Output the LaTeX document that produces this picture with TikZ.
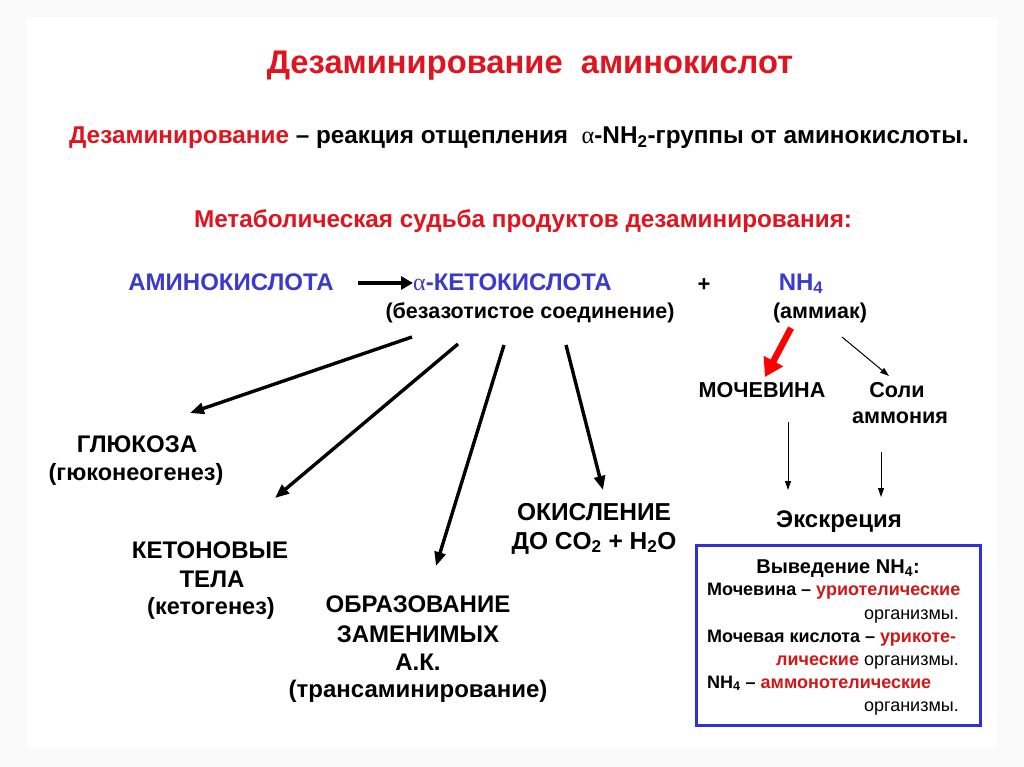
\documentclass[tikz,border=0pt]{standalone}
\usepackage{fontspec}
\setmainfont{Liberation Sans}
\newfontfamily\greekf{Liberation Serif}
\usetikzlibrary{arrows.meta}
\definecolor{tred}{HTML}{E0141E}
\definecolor{tblue}{HTML}{3A3ACC}
\definecolor{bblue}{HTML}{3030D8}
\definecolor{dred}{HTML}{D01818}
\newcommand{\fs}[1]{\fontsize{#1}{#1}\selectfont\bfseries}
\newcommand{\alf}{{\greekf\mdseries α}}
\tikzset{
  txt/.style={inner sep=0pt, anchor=base, text=black},
  bigarrow/.style={line width=3.4pt, -{Triangle[length=14pt,width=11pt]}},
  thinarrow/.style={line width=1pt, -{Triangle[length=9pt,width=6pt]}},
  redarrow/.style={draw=red, line width=6.5pt, -{Triangle[length=18pt,width=21pt]}},
  hbox/.style={draw=bblue, line width=3pt, fill=white}
}
\begin{document}
\begin{tikzpicture}[x=1pt,y=-1pt]
\fill[black!2] (0,0) rectangle (1024,767);
\fill[white] (27,17) rectangle (997,747);
\useasboundingbox (0,0) rectangle (1024,767);

% headings
\node[txt, text=tred] (title) at (530,74) {\fs{32.7}Дезаминирование\ \ аминокислот};
\node[txt] (def) at (519,144) {\fs{24.3}\textcolor{tred}{Дезаминирование} – реакция отщепления\ \ \alf-NH\textsubscript{2}-группы от аминокислоты.};
\node[txt, text=tred] (meta) at (523,228) {\fs{24.3}Метаболическая судьба продуктов дезаминирования:};

% main equation
\node[txt, text=tblue] (amino) at (231,290) {\fs{24}АМИНОКИСЛОТА};
\node[txt, text=tblue, anchor=base west] (keto) at (413,290) {\fs{24}\alf-КЕТОКИСЛОТА};
\node[txt] (bez) at (530,318) {\fs{21.5}(безазотистое соединение)};
\node[txt] (plus) at (704,291) {\fs{22}+};
\node[txt, text=tblue] (nh) at (801,290) {\fs{24}NH\textsubscript{4}};
\node[txt] (amm) at (820,318) {\fs{21.5}(аммиак)};
\coordinate (a0) at (358,283);
\draw[line width=4pt, -{Triangle[length=12pt,width=13pt]}] (a0) -- (keto.west |- a0);

% products of keto acid
\node[txt] (gluc) at (137,452) {\fs{24}ГЛЮКОЗА};
\node[txt] (gluc2) at (136,480) {\fs{23.5}(гюконеогенез)};
\node[txt] (ket1) at (210,558) {\fs{24}КЕТОНОВЫЕ};
\node[txt] (ket2) at (212,587) {\fs{24}ТЕЛА};
\node[txt] (ket3) at (211,614) {\fs{23.5}(кетогенез)};
\node[txt] (obr1) at (418,612) {\fs{24}ОБРАЗОВАНИЕ};
\node[txt] (obr2) at (418,642) {\fs{24}ЗАМЕНИМЫХ};
\node[txt] (obr3) at (418,670) {\fs{24}А.К.};
\node[txt] (obr4) at (418,697) {\fs{24}(трансаминирование)};
\node[txt] (ox1) at (594,520) {\fs{24.5}ОКИСЛЕНИЕ};
\node[txt] (ox2) at (594,549) {\fs{24.5}ДО CO\textsubscript{2} + H\textsubscript{2}O};

\coordinate (s1) at (412,337); \coordinate (t1) at (190,413);
\coordinate (s2) at (458,344); \coordinate (t2) at (275,498);
\coordinate (s3) at (504,345); \coordinate (t3) at (436,566);
\coordinate (s4) at (566,345); \coordinate (t4) at (603,490);
\draw[bigarrow] (s1) -- (t1);
\draw[bigarrow] (s2) -- (t2);
\draw[bigarrow] (s3) -- (t3);
\draw[bigarrow] (s4) -- (t4);

% ammonia branch
\node[txt] (moch) at (762,397) {\fs{21.6}МОЧЕВИНА};
\node[txt] (soli1) at (897,397) {\fs{21.6}Соли};
\node[txt] (soli2) at (900,423) {\fs{21.6}аммония};
\node[txt] (exc) at (839,527) {\fs{24}Экскреция};
\coordinate (r1) at (791,328); \coordinate (r2) at (765,377);
\draw[redarrow] (r1) -- (r2);
\coordinate (n1) at (842,337); \coordinate (n2) at (889,376);
\draw[thinarrow] (n1) -- (n2);
\coordinate (m1) at (788,422); \coordinate (m2) at (788,490);
\draw[thinarrow] (m1) -- (m2);
\coordinate (q1) at (881,452); \coordinate (q2) at (881,497);
\draw[thinarrow] (q1) -- (q2);

% box
\node[hbox, minimum width=284pt, minimum height=180pt, anchor=north west, inner sep=0pt] (box) at (695,544) {};
\node[txt] (b0) at (838,573) {\fs{20}Выведение NH\textsubscript{4}:};
\node[txt, anchor=base west] (b1) at (707,595) {\fs{18}Мочевина – \textcolor{dred}{уриотелические}};
\node[txt, anchor=base east] (b2) at (959,619) {\fs{18}\mdseries организмы.};
\node[txt, anchor=base west] (b3) at (707,642) {\fs{18}Мочевая кислота – \textcolor{dred}{урикоте-}};
\node[txt, anchor=base east] (b4) at (959,665) {\fs{18}\textcolor{dred}{лические} \mdseries организмы.};
\node[txt, anchor=base west] (b5) at (707,688) {\fs{18}NH\textsubscript{4} – \textcolor{dred}{аммонотелические}};
\node[txt, anchor=base east] (b6) at (959,711) {\fs{18}\mdseries организмы.};
\end{tikzpicture}
\end{document}
